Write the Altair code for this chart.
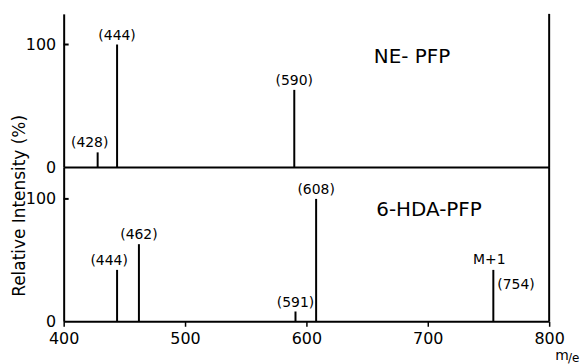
import altair as alt
import pandas as pd

# ---- data ----
top_mz = [428, 444, 590]
top_int = [12, 100, 63]
bot_mz = [444, 462, 591, 608, 754]
bot_int = [42, 63, 8, 100, 42]
x_ticks = [400, 500, 600, 700, 800]
y_ticks = [0, 100]
panel_names = ["NE- PFP", "6-HDA-PFP"]
y_title = "Relative Intensity (%)"
mol_ion_label = "M+1"

FONT = "DejaVu Sans"
W = 488
H_TOP = 154
H_BOT = 155

top_df = pd.DataFrame({"mz": top_mz, "intensity": top_int,
                       "label": [f"({m})" for m in top_mz]})
bot_df = pd.DataFrame({"mz": bot_mz, "intensity": bot_int,
                       "label": [f"({m})" for m in bot_mz]})
tick_df = pd.DataFrame({"v": [v for v in y_ticks if v > 0]})
edge_df = pd.DataFrame({"x": [x_ticks[-1]]})

x_scale = alt.Scale(domain=[x_ticks[0], x_ticks[-1]], nice=False, zero=False)
y_top_scale = alt.Scale(domain=[0, 125], nice=False)
y_bot_scale = alt.Scale(domain=[0, 126], nice=False)


def y_axis():
    return alt.Axis(values=y_ticks, title=None, grid=False, ticks=False,
                    labelPadding=8, domainWidth=2, domainColor="black",
                    labelFont=FONT, labelFontSize=16, labelColor="black",
                    labelFlush=False)


def panel(df, y_scale, height, name, name_x, name_y, x_axis, left_labels):
    base = alt.Chart(df)
    lines = base.mark_rule(color="black", strokeWidth=2).encode(
        x=alt.X("mz:Q", scale=x_scale, axis=x_axis),
        y=alt.Y("intensity:Q", scale=y_scale, axis=y_axis()),
        y2=alt.datum(0),
    )
    normal = base.transform_filter(
        ~alt.FieldOneOfPredicate(field="mz", oneOf=left_labels + [754])
    ).mark_text(font=FONT, fontSize=14, baseline="bottom", dy=-2, color="black").encode(
        x="mz:Q", y="intensity:Q", text="label:N")
    shifted = base.transform_filter(
        alt.FieldOneOfPredicate(field="mz", oneOf=left_labels)
    ).mark_text(font=FONT, fontSize=14, baseline="bottom", dy=-2, dx=-8, color="black").encode(
        x="mz:Q", y="intensity:Q", text="label:N")
    inward = alt.Chart(tick_df).mark_rule(color="black", strokeWidth=2).encode(
        y=alt.Y("v:Q", scale=y_scale), x=alt.value(0), x2=alt.value(5))
    edge = alt.Chart(edge_df).mark_rule(color="black", strokeWidth=2).encode(
        x=alt.X("x:Q", scale=x_scale))
    name_df = pd.DataFrame({"t": [name]})
    title = alt.Chart(name_df).mark_text(font=FONT, fontSize=20, color="black").encode(
        x=alt.datum(name_x), y=alt.datum(name_y), text="t:N")
    return [lines, normal, shifted, inward, edge, title]


top_axis = alt.Axis(title=None, labels=False, ticks=False, grid=False,
                    domainWidth=2, domainColor="black")
bot_axis = alt.Axis(values=x_ticks, title=None, grid=False, tickSize=5,
                    tickWidth=1.5, tickColor="black", labelPadding=4,
                    labelFlush=False,
                    domainWidth=2, domainColor="black", labelFont=FONT,
                    labelFontSize=16, labelColor="black")

top_layers = panel(top_df, y_top_scale, H_TOP, panel_names[0], 687, 90,
                   top_axis, [428])
bot_layers = panel(bot_df, y_bot_scale, H_BOT, panel_names[1], 701, 91,
                   bot_axis, [444])

m754 = bot_df[bot_df["mz"] == 754]
m_label = alt.Chart(m754).mark_text(font=FONT, fontSize=14, align="left",
                                    baseline="middle", dx=4, dy=15, color="black").encode(
    x="mz:Q", y="intensity:Q", text="label:N")
m_plus = alt.Chart(m754.assign(t=mol_ion_label)).mark_text(
    font=FONT, fontSize=14, baseline="bottom", dy=-3, dx=-4, color="black").encode(
    x="mz:Q", y="intensity:Q", text="t:N")

one = pd.DataFrame({"t": [y_title]})
ytitle = alt.Chart(one).mark_text(font=FONT, fontSize=17, angle=270,
                                  baseline="middle", align="center", color="black").encode(
    x=alt.value(-44), y=alt.value(39), text="t:N")
unit_m = alt.Chart(pd.DataFrame({"t": ["m"]})).mark_text(
    font=FONT, fontSize=14, baseline="middle", align="center", color="black").encode(
    x=alt.value(W + 13), y=alt.value(H_BOT + 35), text="t:N")
unit_e = alt.Chart(pd.DataFrame({"t": ["/e"]})).mark_text(
    font=FONT, fontSize=12, baseline="middle", align="left", color="black").encode(
    x=alt.value(W + 19), y=alt.value(H_BOT + 37), text="t:N")

top = alt.layer(*top_layers).properties(width=W, height=H_TOP)
bottom = alt.layer(*bot_layers, m_label, m_plus, ytitle, unit_m, unit_e).properties(
    width=W, height=H_BOT)

chart = alt.vconcat(top, bottom, spacing=0, bounds="flush").configure_view(stroke=None).properties(
    padding={"left": 10, "top": 12, "right": 0, "bottom": 0},
    background="white",
)

chart.save("out.html", embed_options={"renderer": "svg", "actions": False})
